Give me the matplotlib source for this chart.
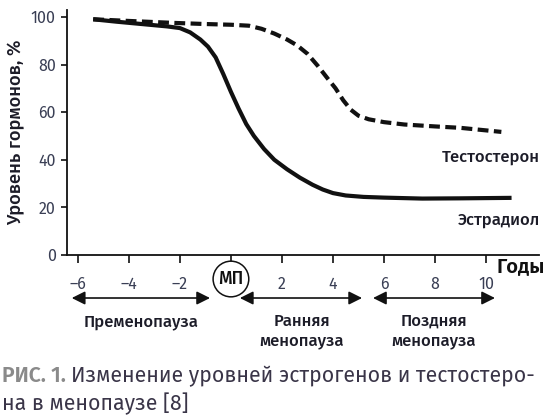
import numpy as np
import matplotlib.pyplot as plt
from matplotlib.patches import FancyArrowPatch

plt.rcParams['font.family'] = ['Fira Sans', 'DejaVu Sans']

# --- data ---
years_e = [-5.4, -4.5, -3.5, -2.5, -2.0, -1.6, -1.2, -0.9, -0.6, -0.3, 0.0,
           0.3, 0.6, 0.9, 1.3, 1.7, 2.2, 2.7, 3.2, 3.6, 4.0, 4.5, 5.2,
           6.0, 7.5, 9.0, 11.0]
estradiol = [99, 98, 97, 96, 95.3, 93.5, 90.5, 87.5, 83, 76, 68.5,
             61.5, 55, 50, 44.5, 40, 36, 32.5, 29.5, 27.5, 26, 25, 24.4,
             24.1, 23.7, 23.8, 24]

years_t = [-5.4, -4.0, -2.3, -1.0, 0.0, 0.7, 1.2, 1.7, 2.2, 2.6, 3.0,
           3.4, 3.8, 4.1, 4.4, 4.7, 5.0, 5.4, 6.0, 6.8, 8.0, 9.0, 10.6]
testosterone = [99, 98.3, 97.5, 97, 96.7, 96.3, 95, 93, 90.5, 88, 84.5,
                79.5, 74, 70, 65, 61, 58.5, 57, 55.8, 54.8, 54, 53.4, 51.7]

xticks = [-6, -4, -2, 0, 2, 4, 6, 8, 10]
xtick_labels = ['\u20136', '\u20134', '\u20132', '', '2', '4', '6', '8', '10']
yticks = [0, 20, 40, 60, 80, 100]

phases = [(-6.24, -0.82, -3.53, 'Пременопауза'),
          (0.35, 5.14, 2.78, 'Ранняя\nменопауза'),
          (5.57, 10.35, 7.96, 'Поздняя\nменопауза')]

dark = '#1c1c28'
tick_col = '#3a3f55'

fig = plt.figure(figsize=(5.44, 4.16), dpi=100)
ax = fig.add_axes([0.123, 0.387, 0.868, 0.589])

ax.plot(years_e, estradiol, color='#111111', lw=3.0, solid_capstyle='butt',
        solid_joinstyle='round')
ax.plot(years_t, testosterone, color='#111111', lw=3.0,
        linestyle=(0, (2.6, 1.3)), dash_capstyle='butt')

ax.set_xlim(-6.43, 12.08)
ax.set_ylim(0, 102.9)

for side in ['top', 'right']:
    ax.spines[side].set_visible(False)
for side in ['left', 'bottom']:
    ax.spines[side].set_linewidth(1.3)
    ax.spines[side].set_color('#111111')

ax.set_xticks(xticks)
ax.set_xticklabels(xtick_labels)
ax.set_yticks(yticks)
ax.set_yticklabels([str(v) for v in yticks])
ax.tick_params(axis='x', length=6, width=1.2, pad=9, labelsize=11.5,
               labelcolor=tick_col, color='#111111')
ax.tick_params(axis='y', length=4, width=1.2, pad=4, labelsize=11.5,
               labelcolor=tick_col, color='#111111')

ax.set_ylabel('Уровень гормонов, %', fontsize=13.2, fontweight='medium',
              color=dark, labelpad=4)

# МП marker at zero
ax.annotate('МП', xy=(0, 0), xycoords=('data', 'axes fraction'),
            xytext=(0, -24), textcoords='offset pixels',
            ha='center', va='center', fontsize=12.5, fontweight='medium',
            color='#111111',
            bbox=dict(boxstyle='circle,pad=0.3', fc='white', ec='#111111', lw=1.1),
            annotation_clip=False)

# series labels
ax.text(12.1, 41.2, 'Тестостерон', ha='right', va='center', fontsize=12,
        fontweight='medium', color=dark, clip_on=False)
ax.text(12.1, 14.7, 'Эстрадиол', ha='right', va='center', fontsize=12,
        fontweight='medium', color=dark, clip_on=False)
ax.text(12.3, -0.045, 'Годы', transform=ax.get_xaxis_transform(), ha='right',
        va='center', fontsize=14.5, fontweight='semibold', color='#111111',
        clip_on=False)

# phase arrows
tr = ax.get_xaxis_transform()
for x0, x1, xc, name in phases:
    arr = FancyArrowPatch((x0, -0.1755), (x1, -0.1755), transform=tr,
                          arrowstyle='<|-|>,head_length=8,head_width=4',
                          color='#111111', lw=1.2, clip_on=False,
                          shrinkA=0, shrinkB=0)
    ax.add_patch(arr)
    ax.text(xc, -0.31 if '\n' in name else -0.273, name, transform=tr,
            ha='center', va='center', fontsize=12, fontweight='medium',
            color=dark, linespacing=1.25, clip_on=False)

# caption
fig.canvas.draw()
r = fig.canvas.get_renderer()
t1 = fig.text(0.004, 0.082, 'РИС. 1.', fontsize=15.3, fontweight='semibold',
              color='#8a8a8a', va='baseline', ha='left')
bb = t1.get_window_extent(renderer=r)
x_next = (bb.x1 + 5) / fig.bbox.width
fig.text(x_next, 0.082, 'Изменение уровней эстрогенов и тестостеро-',
         fontsize=15.3, color='#3a3548', va='baseline', ha='left')
fig.text(0.004, 0.0144, 'на в менопаузе [8]', fontsize=15.3,
         color='#3a3548', va='baseline', ha='left')

fig.savefig('out.png', dpi=100)
